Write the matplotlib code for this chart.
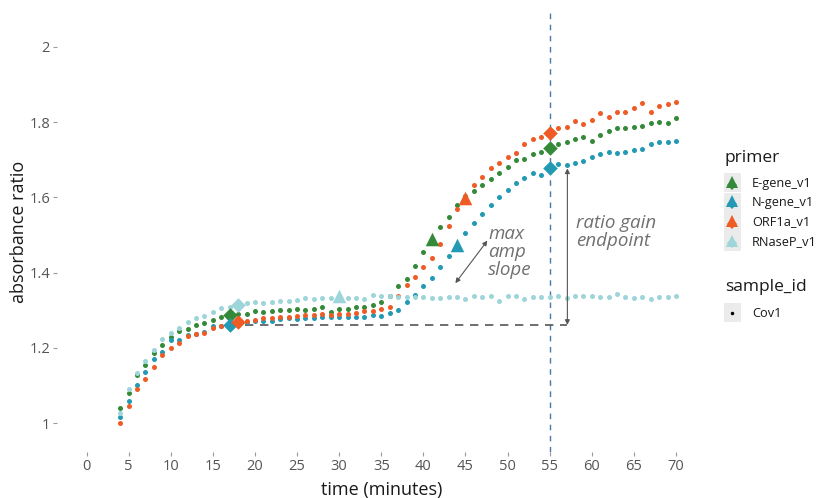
import numpy as np
import matplotlib.pyplot as plt
from matplotlib.patches import Rectangle
from matplotlib.lines import Line2D

plt.rcParams['font.family'] = ['Open Sans', 'DejaVu Sans']

# data: one reading per minute
minutes = np.arange(4, 71)

e_gene = [1.039, 1.081, 1.128, 1.153, 1.187, 1.207, 1.228, 1.245, 1.251, 1.262,
          1.267, 1.274, 1.282, 1.286, 1.290, 1.289, 1.298, 1.294, 1.299, 1.300,
          1.301, 1.303, 1.301, 1.302, 1.308, 1.294, 1.302, 1.304, 1.308, 1.308,
          1.314, 1.323, 1.337, 1.364, 1.384, 1.418, 1.454, 1.489, 1.520, 1.549,
          1.580, 1.603, 1.617, 1.634, 1.648, 1.666, 1.682, 1.699, 1.703, 1.715,
          1.722, 1.732, 1.741, 1.748, 1.754, 1.760, 1.751, 1.766, 1.777, 1.784,
          1.784, 1.788, 1.790, 1.797, 1.801, 1.799, 1.810]

n_gene = [1.015, 1.059, 1.100, 1.136, 1.169, 1.190, 1.221, 1.221, 1.233, 1.238,
          1.242, 1.257, 1.258, 1.261, 1.266, 1.269, 1.272, 1.271, 1.272, 1.276,
          1.278, 1.277, 1.280, 1.280, 1.283, 1.281, 1.281, 1.281, 1.283, 1.283,
          1.286, 1.285, 1.293, 1.301, 1.322, 1.340, 1.364, 1.386, 1.414, 1.444,
          1.473, 1.504, 1.531, 1.556, 1.580, 1.600, 1.620, 1.637, 1.651, 1.666,
          1.660, 1.677, 1.689, 1.686, 1.692, 1.698, 1.707, 1.715, 1.722, 1.717,
          1.722, 1.726, 1.728, 1.742, 1.746, 1.746, 1.750]

orf1a = [1.001, 1.046, 1.091, 1.118, 1.149, 1.182, 1.199, 1.214, 1.231, 1.237,
         1.240, 1.254, 1.258, 1.262, 1.268, 1.272, 1.274, 1.280, 1.280, 1.283,
         1.283, 1.285, 1.286, 1.286, 1.289, 1.288, 1.289, 1.289, 1.292, 1.298,
         1.299, 1.302, 1.309, 1.338, 1.367, 1.388, 1.414, 1.438, 1.476, 1.524,
         1.568, 1.598, 1.633, 1.653, 1.677, 1.692, 1.707, 1.717, 1.742, 1.754,
         1.761, 1.772, 1.784, 1.786, 1.803, 1.795, 1.806, 1.824, 1.815, 1.828,
         1.826, 1.837, 1.852, 1.826, 1.844, 1.848, 1.855]

rnasep = [1.027, 1.091, 1.132, 1.166, 1.193, 1.223, 1.239, 1.254, 1.269, 1.280,
          1.285, 1.296, 1.306, 1.309, 1.314, 1.318, 1.323, 1.320, 1.323, 1.325,
          1.325, 1.326, 1.332, 1.330, 1.333, 1.332, 1.337, 1.333, 1.332, 1.331,
          1.340, 1.337, 1.339, 1.336, 1.334, 1.336, 1.335, 1.332, 1.333, 1.335,
          1.336, 1.331, 1.339, 1.336, 1.339, 1.325, 1.337, 1.337, 1.331, 1.335,
          1.334, 1.336, 1.338, 1.333, 1.337, 1.337, 1.339, 1.334, 1.334, 1.342,
          1.334, 1.333, 1.335, 1.329, 1.334, 1.336, 1.338]

primers = ['E-gene_v1', 'N-gene_v1', 'ORF1a_v1', 'RNaseP_v1']
series = [e_gene, n_gene, orf1a, rnasep]
colors = ['#358a3a', '#2399b3', '#ef5b25', '#9dd5da']

# time points of the fitted features per primer
baseline_t = [17, 17, 18, 18]
max_slope_t = [41, 44, 45, 30]
endpoint_t = [55, 55, 55, None]
endpoint = 55

fig = plt.figure(figsize=(8.29, 4.98), dpi=100)
ax = fig.add_axes([0.0688, 0.0924, 0.7822, 0.8835])

for vals, c in zip(series, colors):
    ax.scatter(minutes, vals, s=13, color=c, linewidths=0, zorder=3)

for vals, c, tb, tm, te in zip(series, colors, baseline_t, max_slope_t, endpoint_t):
    v = dict(zip(minutes, vals))
    ax.scatter([tb], [v[tb]], marker='D', s=55, color=c, linewidths=0, zorder=4)
    ax.scatter([tm], [v[tm]], marker='^', s=95, color=c, linewidths=0, zorder=4)
    if te is not None:
        ax.scatter([te], [v[te]], marker='D', s=55, color=c, linewidths=0, zorder=4)

ax.axvline(endpoint, color='#4a78ad', lw=1, ls=(0, (4, 4)), zorder=2)

# ratio gain annotation based on the N-gene curve
ng = dict(zip(minutes, n_gene))
base = ng[baseline_t[1]]
top = ng[endpoint]
ax.plot([baseline_t[1], 57.1], [base, base], color='#555555', lw=1.2,
        ls=(0, (5, 4)), zorder=2)
ax.annotate('', xy=(57.1, top), xytext=(57.1, base),
            arrowprops=dict(arrowstyle='<|-|>', color='#555555', lw=0.8,
                            mutation_scale=7, shrinkA=0, shrinkB=0))
ax.annotate('', xy=(47.6, 1.485), xytext=(43.8, 1.372),
            arrowprops=dict(arrowstyle='<|-|>', color='#555555', lw=0.8,
                            mutation_scale=7, shrinkA=0, shrinkB=0))
ax.text(47.7, 1.455, 'max\namp\nslope', style='italic', color='#707070',
        fontsize=13.5, ha='left', va='center', linespacing=1.0)
ax.text(58.1, 1.508, 'ratio gain\nendpoint', style='italic', color='#707070',
        fontsize=13.5, ha='left', va='center', linespacing=1.0)

ax.set_xlim(-3.5, 73.5)
ax.set_ylim(0.923, 2.093)
ax.set_xticks(np.arange(0, 71, 5))
ax.set_yticks([1, 1.2, 1.4, 1.6, 1.8, 2])
ax.set_yticklabels(['1', '1.2', '1.4', '1.6', '1.8', '2'])
for s in ax.spines.values():
    s.set_visible(False)
ax.tick_params(axis='both', colors='#9a9a9a', labelcolor='#555555',
               labelsize=10.5, length=3, width=0.8, pad=2)
ax.set_xlabel('time (minutes)', fontsize=13, color='#1a1a1a', labelpad=5)
ax.set_ylabel('absorbance ratio', fontsize=13, color='#1a1a1a', labelpad=1)

# legend drawn by hand, ggplot style
W, H = 829, 498
def fx(px):
    return px / W
def fy(py):
    return 1 - py / H

fig.text(fx(725), fy(158), 'primer', fontsize=12.5, color='#1a1a1a', va='center')
rows = [183, 202.5, 222, 241.5]
for lab, c, y in zip(primers, colors, rows):
    fig.add_artist(Rectangle((fx(724), fy(y + 9.5)), 17 / W, 19 / H,
                             transform=fig.transFigure, color='#ebebeb', lw=0))
    fig.add_artist(Line2D([fx(732.5)], [fy(y + 2)], marker='D', ms=5, color=c,
                          mew=0, transform=fig.transFigure))
    fig.add_artist(Line2D([fx(732.5)], [fy(y - 1)], marker='^', ms=8, color=c,
                          mew=0, transform=fig.transFigure))
    fig.text(fx(752), fy(y), lab, fontsize=9.2, color='#1a1a1a', va='center')

fig.text(fx(725), fy(287), 'sample_id', fontsize=12.5, color='#1a1a1a', va='center')
fig.add_artist(Rectangle((fx(724), fy(313 + 9.5)), 17 / W, 19 / H,
                         transform=fig.transFigure, color='#ebebeb', lw=0))
fig.add_artist(Line2D([fx(732.5)], [fy(313)], marker='o', ms=2.5, color='black',
                      mew=0, transform=fig.transFigure))
fig.text(fx(752), fy(313), 'Cov1', fontsize=9.2, color='#1a1a1a', va='center')

fig.savefig('out.png', dpi=100)
